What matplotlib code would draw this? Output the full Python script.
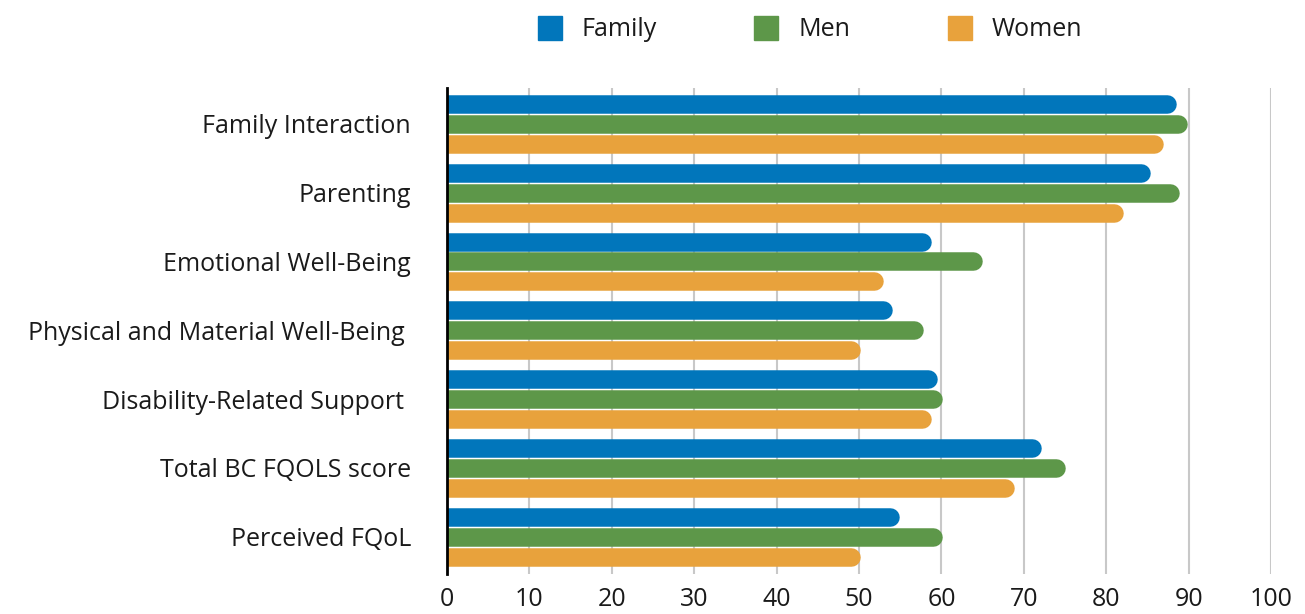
import matplotlib
matplotlib.use("Agg")
import matplotlib.pyplot as plt
from matplotlib.patches import Patch
import numpy as np

categories = ["Family Interaction", "Parenting", "Emotional Well-Being",
              "Physical and Material Well-Being ", "Disability-Related Support ",
              "Total BC FQOLS score", "Perceived FQoL"]
family = [88.5, 85.3, 58.8, 54.0, 59.5, 72.1, 54.9]
men = [89.8, 88.9, 65.0, 57.8, 60.1, 75.0, 60.1]
women = [86.9, 82.1, 53.0, 50.1, 58.8, 68.8, 50.1]
series = ["Family", "Men", "Women"]
colors = ["#0176BB", "#5D9749", "#E8A23C"]

plt.rcParams['font.family'] = ['Open Sans', 'DejaVu Sans']
text_color = "#1a1a1a"

W, H = 1305, 614
fig = plt.figure(figsize=(W / 100, H / 100), dpi=100)
ax = fig.add_axes([447 / W, (H - 574) / H, (1271 - 447) / W, (574 - 88) / H])

ax.set_xlim(0, 100)
ax.set_ylim(6.54, -0.52)

y = np.arange(len(categories))
offset = 20 / 69
bar_px = 18.5
lw_pt = bar_px * 72 / 100
px_per_unit = (1271 - 447) / 100
r = (bar_px / 2) / px_per_unit

# bars as thick lines with a round cap on the right; left cap is clipped at 0
for k, vals in enumerate([family, men, women]):
    for i, v in enumerate(vals):
        yy = y[i] + (k - 1) * offset
        ax.plot([-5, v - r], [yy, yy], color=colors[k], lw=lw_pt,
                solid_capstyle='round', zorder=3)

ax.set_xticks(range(0, 101, 10))
ax.grid(axis='x', color='#c8c8c8', lw=1.5, zorder=0)
ax.set_axisbelow(True)
ax.set_yticks(y)
ax.set_yticklabels(categories)
ax.tick_params(axis='both', length=0, labelsize=18, colors=text_color)
ax.tick_params(axis='y', pad=26)
ax.tick_params(axis='x', pad=9)
for s in ['top', 'right', 'bottom']:
    ax.spines[s].set_visible(False)
ax.spines['left'].set_color('black')
ax.spines['left'].set_linewidth(2)
ax.spines['left'].set_zorder(5)

handles = [Patch(color=c, label=s) for c, s in zip(colors, series)]
fig.legend(handles=handles, loc='center', bbox_to_anchor=(810 / W, 1 - 29 / H),
           ncol=3, frameon=False, fontsize=18, handlelength=0.96, handleheight=1.08,
           handletextpad=0.8, columnspacing=3.9, labelcolor=text_color)

fig.savefig("out.png", dpi=100)
